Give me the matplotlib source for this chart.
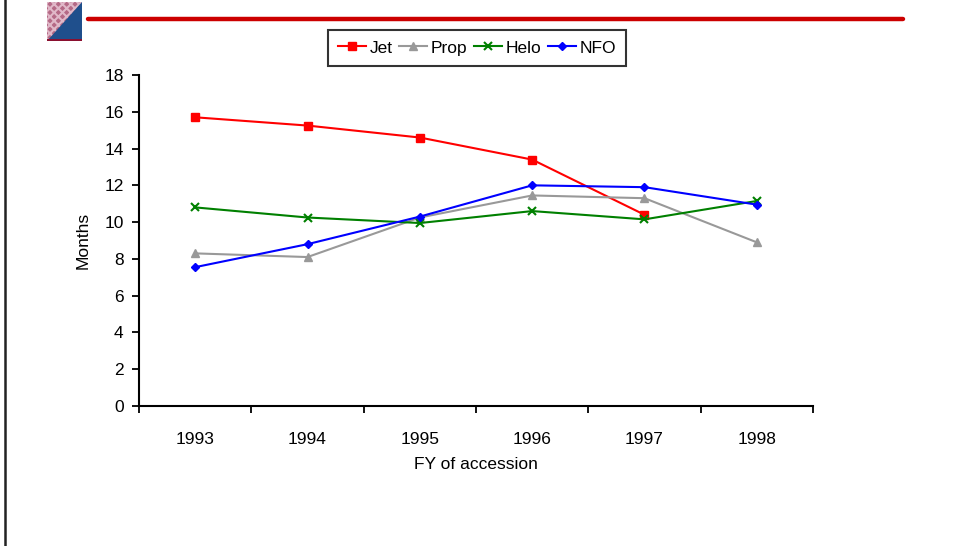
import matplotlib
matplotlib.use("Agg")
import matplotlib.pyplot as plt
from matplotlib.patches import Polygon, Rectangle
from matplotlib.lines import Line2D

# ---- data ----
Years = ["1993", "1994", "1995", "1996", "1997", "1998"]
Jet = [15.7, 15.25, 14.6, 13.4, 10.4, None]
Prop = [8.3, 8.1, 10.25, 11.45, 11.3, 8.9]
Helo = [10.8, 10.25, 9.95, 10.6, 10.15, 11.15]
NFO = [7.55, 8.8, 10.3, 12.0, 11.9, 10.95]

plt.rcParams['font.family'] = ['Liberation Sans', 'DejaVu Sans']
plt.rcParams['hatch.linewidth'] = 1.5
FontSize = 12.5

W, H = 958, 546
fig = plt.figure(figsize=(W / 100, H / 100), dpi=100)

def fx(x):
    return x / W

def fy(y):
    return 1 - y / H

# left frame line
fig.add_artist(Line2D([fx(5), fx(5)], [0, 1], color="#222222", lw=1.8))
# red header rule
fig.add_artist(Line2D([fx(88), fx(903)], [fy(19), fy(19)], color="#cc0000", lw=3.2,
                      solid_capstyle="round"))
# corner icon
icon = fig.add_axes([fx(47), fy(41), fx(82) - fx(47), fy(2) - fy(41)])
icon.set_xlim(0, 1)
icon.set_ylim(0, 1)
icon.axis("off")
icon.add_patch(Rectangle((0, 0), 1, 1, color="#b56a86", hatch="xxxx", ec="#e0b8c8", lw=0))
icon.add_patch(Polygon([(0, 0), (1, 0), (1, 1)], closed=True, color="#1f4f8c", lw=0))
icon.add_patch(Rectangle((0, 0), 1, 0.06, color="#8a1030", lw=0))

ax = fig.add_axes([fx(139), fy(406), fx(813) - fx(139), fy(75) - fy(406)])
Pos = [i + 0.5 for i in range(len(Years))]

def clean(vals):
    return [v if v is not None else float('nan') for v in vals]

ax.plot(Pos, clean(Jet), color="#ff0000", marker="s", ms=5.5, lw=1.5, label="Jet")
ax.plot(Pos, clean(Prop), color="#999999", marker="^", ms=5.5, lw=1.5, label="Prop")
ax.plot(Pos, clean(Helo), color="#008000", marker="x", ms=5.5, mew=1.5, lw=1.5, label="Helo")
ax.plot(Pos, clean(NFO), color="#0000ff", marker="D", ms=4.5, lw=1.5, label="NFO")

ax.set_xlim(0, len(Years))
ax.set_ylim(0, 18)
ax.set_yticks(range(0, 19, 2))
ax.set_xticks(range(0, len(Years) + 1))
ax.set_xticklabels([])
ax.set_xticks(Pos, minor=True)
ax.set_xticklabels(Years, minor=True)
ax.tick_params(axis="x", which="minor", length=0, pad=19, labelsize=FontSize)
ax.tick_params(axis="x", which="major", length=5, width=1.3, direction="out")
ax.tick_params(axis="y", length=5, width=1.3, direction="out", labelsize=FontSize, pad=6)
ax.spines["top"].set_visible(False)
ax.spines["right"].set_visible(False)
ax.spines["left"].set_linewidth(1.5)
ax.spines["bottom"].set_linewidth(1.5)
ax.set_xlabel("FY of accession", fontsize=FontSize, labelpad=7)
ax.set_ylabel("Months", fontsize=FontSize, labelpad=10)

leg = fig.legend(loc="center", bbox_to_anchor=(fx(477), fy(48)), ncol=4, fontsize=FontSize,
                 frameon=True, fancybox=False, handlelength=1.6, handletextpad=0.2,
                 columnspacing=0.4, borderpad=0.6, edgecolor="black")
leg.get_frame().set_linewidth(1.5)

fig.savefig("out.png", dpi=100)
